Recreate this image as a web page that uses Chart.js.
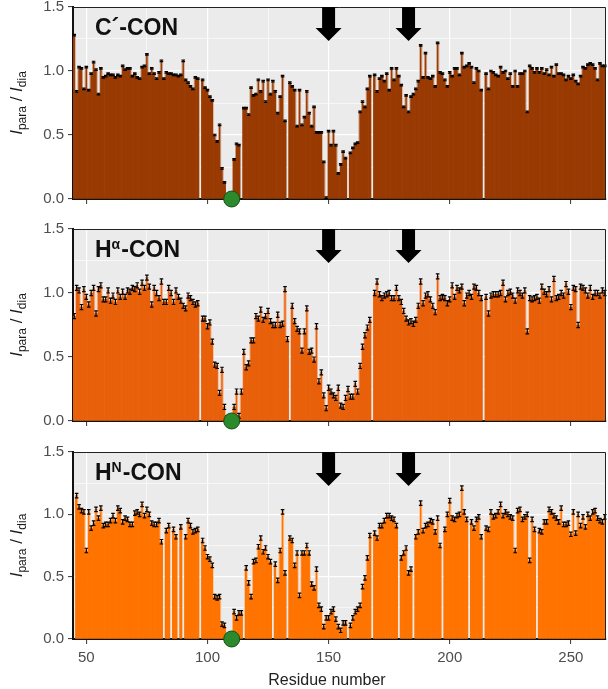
<!DOCTYPE html>
<html>
<head>
<meta charset="utf-8">
<script src="https://cdn.jsdelivr.net/npm/chart.js@4.4.1/dist/chart.umd.min.js"></script>
<style>
  html, body { margin: 0; padding: 0; background: #fff; }
  #wrap { position: relative; width: 608px; height: 689px; }
  canvas { position: absolute; left: 0; }
</style>
</head>
<body>
<div id="wrap">
  <canvas id="panelC" width="608" height="215" style="top:0"></canvas>
  <canvas id="panelHa" width="608" height="225" style="top:215px"></canvas>
  <canvas id="panelHn" width="608" height="249" style="top:440px"></canvas>
</div>
<script>
// residues 45..264, one value per residue (null = no data)
const firstResidue = 45;
const xTicks = [50, 75, 100, 125, 150, 175, 200, 225, 250];
const xLabelTicks = [50, 100, 150, 200, 250];
const yTicks = [0, 0.25, 0.5, 0.75, 1, 1.25, 1.5];
const yLabelTicks = [0, 0.5, 1, 1.5];
const arrowResidues = [150, 183];
const spinLabelResidue = 110;

// C'-CON
const cconValues = [
  1.28, 0.84, 1.03, 1.02, 0.86, 1.03, 0.85, 0.98, 1.07, 1.01,
  0.82, 1.02, 0.95, 0.96, 0.98, 0.97, 0.97, 0.95, 0.97, 0.96,
  1.04, 1.01, 1.02, 1.02, 0.96, 0.98, 0.95, 0.94, 1.03, 1.04,
  1.13, 0.98, 1.02, 0.98, 0.94, 0.99, 1.08, 0.94, 0.99, 0.98,
  0.98, 0.97, 0.97, 0.96, 0.97, 1.08, 0.93, 0.91, 0.88, 0.86,
  0.95, 0.94, null, 0.93, 0.87, 0.85, 0.80, 0.77, 0.50, 0.45,
  0.58, 0.24, 0.13, null, null, null, 0.31, 0.43, 0.42, null,
  0.71, 0.71, 0.66, 0.87, 0.81, 0.82, 0.93, 0.84, 0.92, 0.76,
  0.93, 0.82, 0.92, 0.84, 0.67, 0.80, 0.96, 0.61, null, 0.91,
  0.88, 0.85, 0.57, 0.85, 0.58, 0.64, 0.84, 0.67, 0.57, 0.72,
  0.52, 0.52, 0.52, 0.29, 0.01, 0.53, 0.42, 0.53, 0.42, 0.20,
  0.27, 0.37, 0.32, null, 0.36, 0.40, 0.43, 0.44, 0.68, 0.76,
  0.72, 0.86, 0.96, null, 0.97, 0.84, 0.94, 0.96, 0.92, 0.98,
  0.85, 1.02, 0.93, 1.02, 0.96, 0.89, 0.72, 0.81, 0.68, 0.80,
  0.82, 0.86, 0.92, 1.20, 0.95, 1.14, 0.95, 0.94, 0.96, 0.88,
  1.22, 0.99, 0.98, 0.93, 0.88, 0.99, 0.96, 1.02, 1.02, 0.97,
  1.14, 1.03, 1.04, 1.06, 1.03, 0.91, 1.02, 1.00, 0.85, null,
  0.98, 0.86, 1.00, 0.99, 0.97, 0.96, 1.03, 0.99, 1.00, 0.94,
  0.98, 0.88, 1.00, 0.88, 0.98, 0.98, 1.00, 0.68, 1.04, 1.02,
  0.99, 1.02, 0.99, 1.02, 0.98, 1.01, 0.97, 1.03, 0.96, 1.05,
  0.98, 0.98, 0.97, 0.93, 0.96, 0.94, 0.97, 0.92, 0.90, 0.96,
  1.03, 1.02, 1.05, 1.06, 1.05, 1.02, 0.93, 1.06, 1.04, 1.04
];
const cconError = 0.006;

// Ha-CON
const haconValues = [
  0.82, 1.04, 1.02, 0.89, 1.03, 0.97, 0.91, 1.00, 1.04, 0.84,
  1.03, 1.06, 0.95, 0.95, 1.02, 0.94, 0.98, 0.93, 1.02, 0.97,
  1.01, 0.97, 1.02, 1.01, 1.04, 1.03, 1.06, 1.01, 1.08, 1.04,
  1.12, 1.05, 0.91, 1.04, 1.00, 0.96, 1.09, 0.93, 0.93, 1.04,
  1.00, 0.93, 1.02, 0.97, 0.94, 0.90, 0.88, 0.98, 0.96, 0.93,
  0.91, 0.92, null, 0.80, 0.80, 0.74, 0.77, 0.62, 0.44, 0.43,
  0.22, 0.40, 0.11, 0.02, null, null, 0.11, 0.23, 0.04, 0.23,
  0.54, 0.42, 0.45, 0.63, 0.63, 0.82, 0.80, 0.87, 0.79, 0.82,
  0.86, 0.78, 0.75, 0.75, 0.83, 0.75, 0.76, 1.03, 0.64, null,
  0.90, 0.78, 0.72, 0.70, 0.55, 0.70, 0.88, 0.54, 0.55, 0.48,
  0.74, 0.31, 0.38, 0.20, 0.10, 0.26, 0.23, 0.20, 0.18, 0.26,
  0.12, 0.11, 0.18, 0.25, 0.19, 0.19, 0.29, 0.23, 0.43, 0.58,
  0.67, 0.73, 0.79, null, 1.00, 1.09, 0.99, 0.96, 0.98, 0.99,
  1.00, 0.96, 0.96, 1.04, 0.96, 0.93, 0.86, 0.80, 0.77, 0.78,
  0.76, 0.79, 0.90, 1.09, 0.92, 0.98, 0.99, 0.95, 0.90, 0.85,
  1.13, 0.96, 0.97, 0.96, 0.92, 0.95, 1.06, 0.97, 1.04, 1.02,
  1.05, 0.92, 0.98, 1.00, 0.97, 1.05, 1.04, 1.00, 0.96, null,
  0.97, 0.84, 0.98, 0.99, 0.99, 0.99, 1.00, 1.08, 0.95, 1.00,
  1.01, 0.98, 0.94, 1.02, 1.00, 0.98, 1.02, 0.70, 0.96, 0.95,
  0.96, 0.97, 0.94, 1.05, 1.01, 0.99, 1.03, 0.95, 1.11, 0.96,
  0.97, 1.00, 0.98, 1.07, 1.01, 0.89, 1.04, 1.03, 0.75, 1.05,
  1.04, 1.02, 0.98, 1.04, 0.97, 1.00, 1.00, 0.98, 1.02, 1.00
];
const haconError = 0.02;

// HN-CON
const hnconValues = [
  null, 1.15, 1.06, 1.03, 1.02, 0.71, 1.02, 0.89, 0.93, 1.04,
  0.97, 1.05, 0.91, 0.92, 0.92, 0.95, 0.99, 0.95, 1.05, 1.03,
  0.94, 0.97, 0.96, 0.92, 0.92, 1.01, 1.02, 1.00, 1.08, 0.99,
  1.04, 1.00, 0.93, 0.92, 0.92, 0.95, 0.78, null, 0.87, 0.91,
  null, 0.88, 0.82, null, 0.90, null, 0.82, 0.95, 0.91, 0.86,
  0.87, 0.88, null, 0.79, 0.73, 0.66, 0.64, 0.59, 0.34, 0.33,
  0.34, 0.12, 0.11, null, null, null, 0.22, 0.17, 0.21, 0.21,
  null, 0.57, 0.45, 0.34, 0.62, 0.63, 0.74, 0.81, 0.70, 0.73,
  0.66, 0.62, null, 0.60, 0.47, 0.71, 1.02, 0.53, null, 0.81,
  0.79, 0.59, 0.69, 0.35, 0.69, 0.69, 0.75, 0.69, 0.44, 0.41,
  0.56, 0.27, 0.24, 0.10, 0.17, 0.17, 0.22, 0.24, 0.16, 0.10,
  0.07, 0.13, 0.13, null, 0.11, 0.17, 0.22, 0.24, 0.27, 0.42,
  0.49, 0.65, 0.83, null, 0.85, 0.81, 0.91, 0.91, 0.95, 0.99,
  0.99, 0.97, 0.96, 0.91, null, 0.65, 0.69, 0.73, 0.53, 0.56,
  null, 0.82, 0.86, 1.09, 0.87, 0.91, 0.92, 0.95, 0.94, 0.86,
  0.97, 0.75, null, 0.88, 1.00, 1.11, 0.97, 0.96, 0.99, 1.00,
  1.21, 1.02, 0.96, null, 0.94, 0.89, 0.96, 0.98, 0.82, null,
  0.89, 0.88, 1.02, 0.98, 0.99, 1.02, 1.08, 0.99, 1.02, 1.00,
  0.98, 0.97, 0.71, 1.03, 1.04, 0.96, 0.98, 1.00, 0.63, 0.96,
  0.88, null, 0.87, 0.86, 0.94, 0.94, 1.04, 1.02, 0.99, 0.97,
  0.94, 1.05, 0.92, 0.92, 0.93, 0.84, 1.02, 0.85, 1.00, 0.91,
  0.98, 0.90, 1.00, 0.97, 1.02, 1.03, 0.97, 0.95, 0.94, 0.98
];
const hnconError = 0.018;

const FAM = '"Liberation Sans", Arial, Helvetica, sans-serif';

// background, seams, error bars, arrows, frame and labels
const panelDecor = {
  id: 'panelDecor',
  beforeDraw(chart) {
    const { ctx, chartArea: a } = chart;
    ctx.save();
    ctx.fillStyle = '#ebebeb';
    ctx.fillRect(a.left, a.top, a.right - a.left, a.bottom - a.top);
    ctx.restore();
  },
  afterDatasetDraw(chart, args, o) {
    if (args.index !== 0) return;
    const { ctx, scales: { x, y } } = chart;
    const vals = o.values;
    ctx.save();
    // pale seams where neighbouring bars differ
    ctx.strokeStyle = 'rgba(255,255,255,0.6)';
    ctx.lineWidth = 1;
    for (let i = 0; i < vals.length - 1; i++) {
      const h1 = vals[i], h2 = vals[i + 1];
      if (h1 == null || h2 == null || Math.abs(h1 - h2) < 0.04) continue;
      const px = x.getPixelForValue(firstResidue + i + 0.5);
      ctx.beginPath();
      ctx.moveTo(px, y.getPixelForValue(Math.min(h1, h2)));
      ctx.lineTo(px, y.getPixelForValue(Math.max(h1, h2)));
      ctx.stroke();
    }
    // error bars
    ctx.strokeStyle = '#000';
    ctx.lineWidth = 1.2;
    for (let i = 0; i < vals.length; i++) {
      const v = vals[i];
      if (v == null) continue;
      const cx = x.getPixelForValue(firstResidue + i);
      const yt = y.getPixelForValue(v + o.error);
      const yb = y.getPixelForValue(Math.max(v - o.error, 0));
      ctx.beginPath();
      ctx.moveTo(cx, yt); ctx.lineTo(cx, yb);
      ctx.moveTo(cx - 1.8, yt); ctx.lineTo(cx + 1.8, yt);
      ctx.moveTo(cx - 1.8, yb); ctx.lineTo(cx + 1.8, yb);
      ctx.stroke();
    }
    ctx.restore();
  },
  afterDraw(chart, args, o) {
    const { ctx, chartArea: a, scales: { x } } = chart;
    ctx.save();
    // top / right frame
    ctx.strokeStyle = '#222';
    ctx.lineWidth = 1;
    ctx.beginPath();
    ctx.moveTo(a.left, a.top + 0.5); ctx.lineTo(a.right - 0.5, a.top + 0.5); ctx.lineTo(a.right - 0.5, a.bottom);
    ctx.stroke();

    // arrows
    ctx.fillStyle = '#000';
    arrowResidues.forEach(r => {
      const cx = x.getPixelForValue(r), t = a.top;
      ctx.beginPath();
      ctx.moveTo(cx - 6.5, t); ctx.lineTo(cx + 6.5, t); ctx.lineTo(cx + 6.5, t + 21);
      ctx.lineTo(cx + 13, t + 21); ctx.lineTo(cx, t + 34); ctx.lineTo(cx - 13, t + 21);
      ctx.lineTo(cx - 6.5, t + 21); ctx.closePath();
      ctx.fill();
    });

    // panel title
    let tx = a.left + 22;
    const ty = a.top + 28;
    ctx.fillStyle = '#111';
    ctx.textBaseline = 'alphabetic';
    o.title.forEach(p => {
      ctx.font = p.sup ? 'bold 14px ' + FAM : 'bold 23px ' + FAM;
      ctx.fillText(p.t, tx, p.sup ? ty - 8 : ty);
      tx += ctx.measureText(p.t).width + (p.sup ? 1 : 0);
    });

    // x axis title (bottom panel only)
    if (o.xTitle) {
      ctx.font = '16px ' + FAM;
      ctx.fillStyle = '#222';
      ctx.textAlign = 'center';
      ctx.fillText(o.xTitle, 327, chart.height - 4);
      ctx.textAlign = 'left';
    }

    // y axis label  I_para / I_dia
    const parts = [
      { t: 'I', f: 'italic 17px ' + FAM, dy: 0 },
      { t: 'para', f: '12px ' + FAM, dy: 4 },
      { t: ' / ', f: '17px ' + FAM, dy: 0 },
      { t: 'I', f: 'italic 17px ' + FAM, dy: 0 },
      { t: 'dia', f: '12px ' + FAM, dy: 4 }
    ];
    let total = 0;
    parts.forEach(p => { ctx.font = p.f; p.w = ctx.measureText(p.t).width; total += p.w; });
    ctx.translate(22, (a.top + a.bottom) / 2);
    ctx.rotate(-Math.PI / 2);
    ctx.fillStyle = '#1a1a1a';
    let lx = -total / 2;
    parts.forEach(p => { ctx.font = p.f; ctx.fillText(p.t, lx, p.dy); lx += p.w; });
    ctx.restore();
  }
};

function makePanel(canvasId, cfg) {
  const tickFont = { family: FAM, size: 15 };
  return new Chart(document.getElementById(canvasId), {
    type: 'bar',
    data: {
      datasets: [
        {
          type: 'bar',
          data: cfg.values.map((v, i) => ({ x: firstResidue + i, y: v })),
          backgroundColor: cfg.color,
          borderWidth: 0,
          barPercentage: 1,
          categoryPercentage: 1,
          order: 2
        },
        {
          type: 'scatter',
          data: [{ x: spinLabelResidue, y: 0 }],
          pointRadius: 8,
          backgroundColor: '#2c8a2c',
          borderColor: '#165016',
          borderWidth: 1,
          clip: false,
          order: 0
        }
      ]
    },
    options: {
      responsive: false,
      animation: false,
      events: [],
      layout: { autoPadding: false, padding: { top: cfg.padTop, right: 2, left: 0, bottom: 0 } },
      plugins: {
        legend: { display: false },
        tooltip: { enabled: false },
        panelDecor: { values: cfg.values, error: cfg.error, title: cfg.title, xTitle: cfg.xTitle }
      },
      scales: {
        x: {
          type: 'linear',
          min: 44.5,
          max: 264.5,
          offset: false,
          afterBuildTicks: s => { s.ticks = xTicks.map(v => ({ value: v })); },
          afterFit: s => { s.height = cfg.xHeight; s.paddingLeft = 0; s.paddingRight = 0; },
          grid: {
            offset: false,
            color: '#ffffff',
            lineWidth: c => (c.tick && xLabelTicks.includes(c.tick.value)) ? 1.2 : 0.6,
            tickLength: 5,
            tickWidth: 1,
            tickColor: c => (c.tick && xLabelTicks.includes(c.tick.value)) ? '#333' : 'rgba(0,0,0,0)'
          },
          border: { display: true, color: '#111', width: 2 },
          ticks: {
            display: !!cfg.xTitle,
            autoSkip: false,
            maxRotation: 0,
            padding: 5,
            color: '#4d4d4d',
            font: tickFont,
            callback: v => xLabelTicks.includes(v) ? String(v) : ''
          }
        },
        y: {
          min: 0,
          max: 1.5,
          afterBuildTicks: s => { s.ticks = yTicks.map(v => ({ value: v })); },
          afterFit: s => { s.width = 73; s.paddingTop = 0; s.paddingBottom = 0; },
          grid: {
            color: '#ffffff',
            lineWidth: c => (c.tick && yLabelTicks.includes(c.tick.value)) ? 1.2 : 0.6,
            tickLength: 5,
            tickWidth: 1,
            tickColor: c => (c.tick && yLabelTicks.includes(c.tick.value)) ? '#333' : 'rgba(0,0,0,0)'
          },
          border: { display: true, color: '#111', width: 2 },
          ticks: {
            autoSkip: false,
            padding: 4,
            color: '#4d4d4d',
            font: tickFont,
            callback: v => yLabelTicks.includes(v) ? v.toFixed(1) : ''
          }
        }
      }
    },
    plugins: [panelDecor]
  });
}

makePanel('panelC', {
  values: cconValues, error: cconError, color: '#983a02',
  title: [{ t: 'C\u00B4-CON' }],
  padTop: 7, xHeight: 16
});
makePanel('panelHa', {
  values: haconValues, error: haconError, color: '#e8600a',
  title: [{ t: 'H' }, { t: '\u03B1', sup: true }, { t: '-CON' }],
  padTop: 14, xHeight: 19
});
makePanel('panelHn', {
  values: hnconValues, error: hnconError, color: '#ff7300',
  title: [{ t: 'H' }, { t: 'N', sup: true }, { t: '-CON' }],
  padTop: 12, xHeight: 50, xTitle: 'Residue number'
});
</script>
</body>
</html>
